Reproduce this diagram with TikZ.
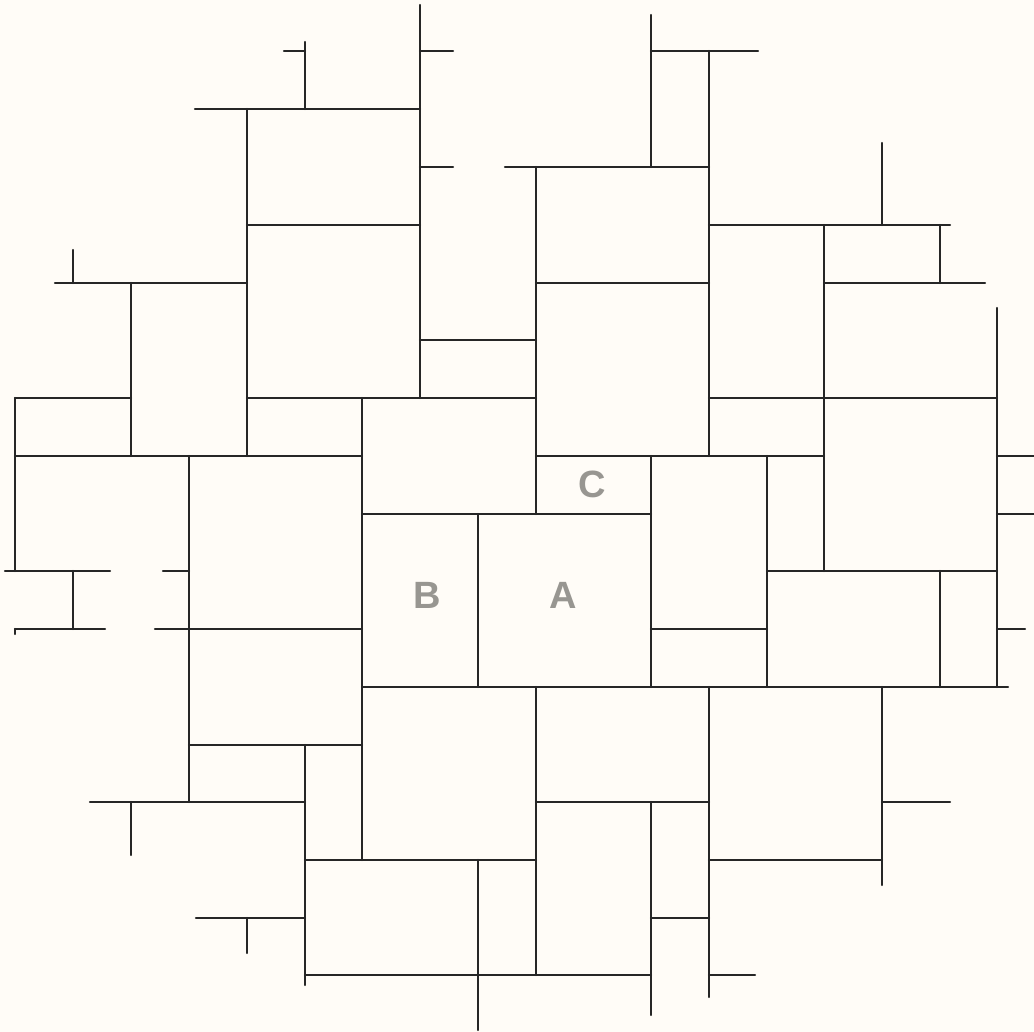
\documentclass[tikz,border=0pt]{standalone}
\usepackage{fontspec}
\setmainfont{Liberation Sans}
\definecolor{bgcol}{RGB}{255,252,247}
\definecolor{wallcol}{RGB}{38,38,38}
\definecolor{labcol}{RGB}{152,150,145}
\begin{document}
\begin{tikzpicture}[x=1pt,y=-1pt,
  wall/.style={draw=wallcol,line width=2.3pt,line cap=round},
  lab/.style={text=labcol,font=\fontsize{38}{40}\selectfont\bfseries,inner sep=0pt}]
\fill[bgcol] (0,0) rectangle (1034,1032);
\useasboundingbox (0,0) rectangle (1034,1032);
% horizontal walls: y / x1 / x2
\foreach \y/\a/\b in {
  51/284/305, 51/420/453, 51/651/758,
  109/195/420,
  167/420/453, 167/505/709,
  225/247/420, 225/709/950,
  283/55/247, 283/536/709, 283/824/985,
  340/420/536,
  398/15/131, 398/247/536, 398/709/997,
  456/15/362, 456/536/824, 456/997/1034,
  514/362/651, 514/997/1034,
  571/5/110, 571/163/189, 571/767/997,
  629/15/105, 629/155/362, 629/651/767, 629/997/1025,
  687/362/1008,
  745/189/362,
  802/90/305, 802/536/709, 802/882/950,
  860/305/536, 860/709/882,
  918/196/305, 918/651/709,
  975/305/651, 975/709/755}
  \draw[wall] (\a,\y) -- (\b,\y);
% vertical walls: x / y1 / y2
\foreach \x/\a/\b in {
  15/398/571, 15/629/634,
  73/250/283, 73/571/629,
  131/283/456, 131/802/855,
  189/456/802,
  247/109/456, 247/918/953,
  305/42/109, 305/745/985,
  362/398/860,
  420/5/398,
  478/514/687, 478/860/1030,
  536/167/514, 536/687/975,
  651/15/167, 651/456/687, 651/802/1015,
  709/51/456, 709/687/997,
  767/456/687,
  824/225/571,
  882/143/225, 882/687/885,
  940/225/283, 940/571/687,
  997/308/687}
  \draw[wall] (\x,\a) -- (\x,\b);
\node[lab] (A) at (563,595) {A};
\node[lab] (B) at (427,595) {B};
\node[lab] (C) at (592,484) {C};
\end{tikzpicture}
\end{document}
